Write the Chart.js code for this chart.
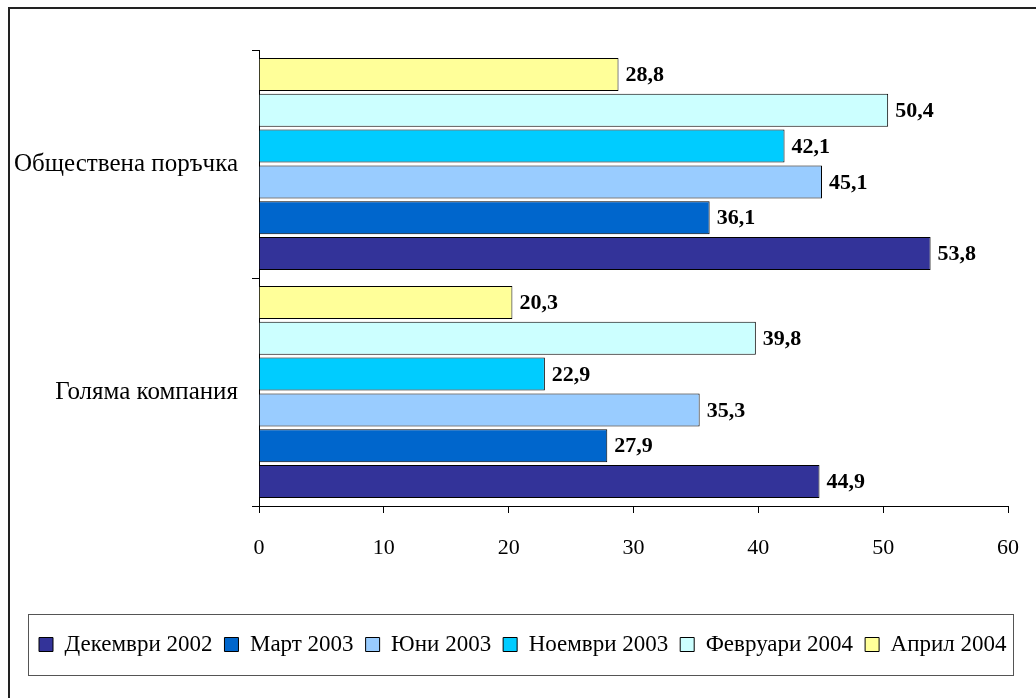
<!DOCTYPE html>
<html>
<head>
<meta charset="utf-8">
<script src="https://cdn.jsdelivr.net/npm/chart.js@4.4.1/dist/chart.umd.min.js"></script>
<style>
  html, body { margin: 0; padding: 0; background: #fff; overflow: hidden; }
  canvas { display: block; }
</style>
</head>
<body>
<canvas id="chart" width="1036" height="698"></canvas>
<script>
// categories, top to bottom
const categories = ['Обществена поръчка', 'Голяма компания'];

// series values [Обществена поръчка, Голяма компания]
const dec2002 = [53.8, 44.9];
const mar2003 = [36.1, 27.9];
const jun2003 = [45.1, 35.3];
const nov2003 = [42.1, 22.9];
const feb2004 = [50.4, 39.8];
const apr2004 = [28.8, 20.3];

const xTicks = [0, 10, 20, 30, 40, 50, 60];

const FONT = 'Liberation Serif';

// Excel draws the last series on top, so datasets go Април -> Декември
const series = [
  { label: 'Април 2004', data: apr2004, color: '#FFFF99' },
  { label: 'Февруари 2004', data: feb2004, color: '#CCFFFF' },
  { label: 'Ноември 2003', data: nov2003, color: '#00CCFF' },
  { label: 'Юни 2003', data: jun2003, color: '#99CCFF' },
  { label: 'Март 2003', data: mar2003, color: '#0066CC' },
  { label: 'Декември 2002', data: dec2002, color: '#333399' }
];

const valueLabels = {
  id: 'valueLabels',
  afterDatasetsDraw(chart) {
    const ctx = chart.ctx;
    ctx.save();
    ctx.font = 'bold 22px "' + FONT + '"';
    ctx.fillStyle = '#000';
    ctx.textAlign = 'left';
    ctx.textBaseline = 'middle';
    chart.data.datasets.forEach((ds, i) => {
      chart.getDatasetMeta(i).data.forEach((bar, j) => {
        const txt = ds.data[j].toFixed(1).replace('.', ',');
        ctx.fillText(txt, bar.x + 7, bar.y + 1);
      });
    });
    ctx.restore();
  }
};

const frames = {
  id: 'frames',
  beforeDraw(chart) {
    // move the legend row so it starts where Excel put it
    const lg = chart.legend;
    const boxes = lg.legendHitBoxes;
    if (boxes && boxes.length) {
      const dx = 39 - Math.min(...boxes.map(b => b.left));
      lg.left += dx;
      lg.right += dx;
      boxes.forEach(b => { b.left += dx; });
    }
  },
  afterDraw(chart) {
    const ctx = chart.ctx;
    ctx.save();
    // outer chart border (cropped on right and bottom)
    ctx.strokeStyle = '#222';
    ctx.lineWidth = 2;
    ctx.beginPath();
    ctx.moveTo(9, 698);
    ctx.lineTo(9, 8);
    ctx.lineTo(1036, 8);
    ctx.stroke();
    // legend box
    const boxes = chart.legend.legendHitBoxes;
    if (boxes && boxes.length) {
      const left = Math.min(...boxes.map(b => b.left)) - 11;
      const right = Math.max(...boxes.map(b => b.left + b.width)) + 6;
      const cy = boxes[0].top + boxes[0].height / 2;
      ctx.strokeStyle = '#555';
      ctx.lineWidth = 1;
      ctx.strokeRect(Math.round(left) + 0.5, Math.round(cy - 30.5) + 0.5,
        Math.round(right - left), 61);
    }
    ctx.restore();
  }
};

new Chart(document.getElementById('chart'), {
  type: 'bar',
  data: {
    labels: categories,
    datasets: series.map(s => ({
      label: s.label,
      data: s.data,
      backgroundColor: s.color,
      borderColor: '#000',
      borderWidth: 1,
      barPercentage: 0.922,
      categoryPercentage: 0.942
    }))
  },
  options: {
    indexAxis: 'y',
    responsive: false,
    animation: false,
    layout: { padding: { left: 0, right: 28, top: 50, bottom: 32 } },
    scales: {
      x: {
        min: 0,
        max: 60,
        afterBuildTicks: s => { s.ticks = xTicks.map(v => ({ value: v })); },
        afterFit: s => { s.height = 115; },
        grid: { drawOnChartArea: false, color: '#000', tickLength: 7 },
        border: { color: '#000', width: 1 },
        ticks: { color: '#000', padding: 14, font: { family: FONT, size: 22, lineHeight: 1.9 } }
      },
      y: {
        afterFit: s => { s.width = 259; },
        grid: { drawOnChartArea: false, color: '#000', tickLength: 7 },
        border: { color: '#000', width: 1 },
        ticks: { color: '#000', padding: 14, font: { family: FONT, size: 25 } }
      }
    },
    plugins: {
      legend: {
        position: 'bottom',
        reverse: true,
        labels: {
          color: '#000',
          boxWidth: 14,
          boxHeight: 14,
          padding: 12,
          font: { family: FONT, size: 23 }
        }
      },
      tooltip: { enabled: false }
    }
  },
  plugins: [valueLabels, frames]
});
</script>
</body>
</html>
